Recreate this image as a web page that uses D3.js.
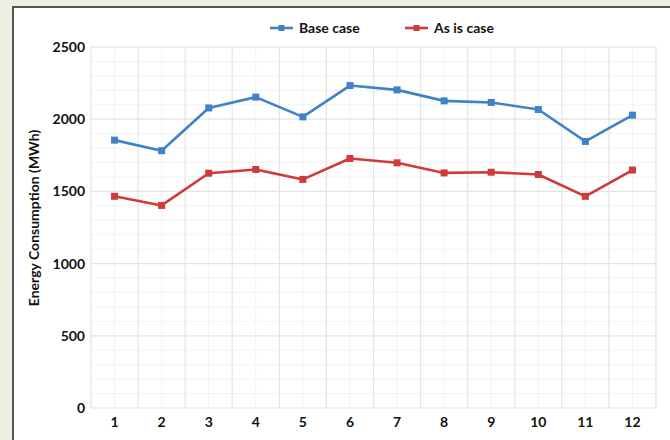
<!DOCTYPE html>
<html>
<head>
<meta charset="utf-8">
<script src="https://cdn.jsdelivr.net/npm/d3@7/dist/d3.min.js"></script>
<style>
  html, body { margin: 0; padding: 0; background: #eef0e3; }
  svg { display: block; }
  text { font-family: Lato, "Open Sans", sans-serif; font-weight: bold; fill: #111; }
</style>
</head>
<body>
<svg id="chart" width="670" height="440"></svg>
<script>
const months = ["1","2","3","4","5","6","7","8","9","10","11","12"];
const baseCase = [1855, 1782, 2078, 2153, 2016, 2233, 2203, 2127, 2116, 2067, 1846, 2028];
const asIsCase = [1466, 1403, 1626, 1652, 1583, 1728, 1698, 1628, 1633, 1617, 1466, 1648];
const yTicks = [0, 500, 1000, 1500, 2000, 2500];
const seriesNames = ["Base case", "As is case"];
const seriesColors = ["#3f82c7", "#cf3a3a"];

const svg = d3.select("#chart");

// white panel with border
svg.append("rect").attr("x", 13).attr("y", 7).attr("width", 670).attr("height", 450)
  .attr("fill", "#ffffff").attr("stroke", "#555").attr("stroke-width", 2);

const margin = { left: 91, right: 656, top: 47, bottom: 408 };

const x = d3.scaleBand().domain(months).range([margin.left, margin.right]);
const y = d3.scaleLinear().domain([0, 2500]).range([margin.bottom, margin.top]);

const g = svg.append("g");

// minor horizontal grid
g.append("g").selectAll("line").data(d3.range(100, 2500, 100).filter(v => v % 500 !== 0))
  .join("line")
  .attr("x1", margin.left).attr("x2", margin.right)
  .attr("y1", d => y(d)).attr("y2", d => y(d))
  .attr("stroke", "#f3f3f3").attr("stroke-width", 1);

// minor vertical grid (category centers)
g.append("g").selectAll("line").data(months)
  .join("line")
  .attr("x1", d => x(d) + x.bandwidth() / 2).attr("x2", d => x(d) + x.bandwidth() / 2)
  .attr("y1", margin.top).attr("y2", margin.bottom)
  .attr("stroke", "#f3f3f3").attr("stroke-width", 1);

// major horizontal grid
g.append("g").selectAll("line").data(yTicks)
  .join("line")
  .attr("x1", margin.left).attr("x2", margin.right)
  .attr("y1", d => y(d)).attr("y2", d => y(d))
  .attr("stroke", "#e4e4e4").attr("stroke-width", 1.2);

// major vertical grid (category boundaries)
const bounds = months.map(m => x(m)).concat([margin.right]);
g.append("g").selectAll("line").data(bounds)
  .join("line")
  .attr("x1", d => d).attr("x2", d => d)
  .attr("y1", margin.top).attr("y2", margin.bottom)
  .attr("stroke", "#e4e4e4").attr("stroke-width", 1.2);

// y axis labels
const yAxis = d3.axisLeft(y).tickValues(yTicks).tickFormat(d3.format("d")).tickSize(0).tickPadding(6);
const ya = svg.append("g").attr("transform", `translate(${margin.left},0)`).call(yAxis);
ya.select(".domain").remove();
ya.selectAll("text").style("font-size", "14px").style("font-family", "Lato, sans-serif")
  .style("font-weight", "bold").attr("fill", "#111");

// x axis labels
const xAxis = d3.axisBottom(x).tickSize(0).tickPadding(9);
const xa = svg.append("g").attr("transform", `translate(0,${margin.bottom})`).call(xAxis);
xa.select(".domain").remove();
xa.selectAll("text").style("font-size", "14px").style("font-family", "Lato, sans-serif")
  .style("font-weight", "bold").attr("fill", "#111");

// y title
svg.append("text")
  .attr("transform", "translate(39,218) rotate(-90)")
  .attr("text-anchor", "middle")
  .style("font-size", "14px")
  .text("Energy Consumption (MWh)");

// series
const series = [baseCase, asIsCase];
const line = d3.line().x((d, i) => x(months[i]) + x.bandwidth() / 2).y(d => y(d));
series.forEach((vals, si) => {
  svg.append("path").datum(vals)
    .attr("d", line).attr("fill", "none")
    .attr("stroke", seriesColors[si]).attr("stroke-width", 2.6)
    .attr("stroke-linejoin", "round");
  svg.append("g").selectAll("rect").data(vals).join("rect")
    .attr("x", (d, i) => x(months[i]) + x.bandwidth() / 2 - 3.5)
    .attr("y", d => y(d) - 3.5)
    .attr("width", 7).attr("height", 7)
    .attr("fill", seriesColors[si]);
});

// legend
const legendX = [270, 405];
seriesNames.forEach((name, i) => {
  const lg = svg.append("g").attr("transform", `translate(${legendX[i]},28)`);
  lg.append("line").attr("x1", 0).attr("x2", 23).attr("y1", 0).attr("y2", 0)
    .attr("stroke", seriesColors[i]).attr("stroke-width", 2.6);
  lg.append("rect").attr("x", 8.5).attr("y", -3).attr("width", 6).attr("height", 6)
    .attr("fill", seriesColors[i]);
  lg.append("text").attr("x", 29).attr("y", 5).style("font-size", "14px").text(name);
});
</script>
</body>
</html>
